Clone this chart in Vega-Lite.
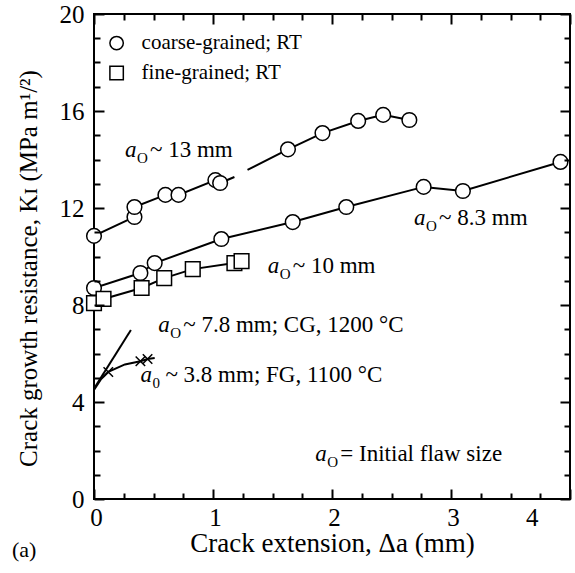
{
  "$schema": "https://vega.github.io/schema/vega-lite/v6.json",
  "width": 476,
  "height": 485,
  "autosize": {"type": "none"},
  "padding": {"left": 94, "top": 14, "right": 5, "bottom": 74},
  "background": "white",
  "title": {"text": "(a)", "orient": "bottom", "anchor": "start", "frame": "bounds", "font": "Liberation Serif", "fontSize": 22, "fontWeight": "normal", "color": "black", "offset": -16, "dx": -4},
  "config": {
    "view": {"stroke": "black", "strokeWidth": 2},
    "font": "Liberation Serif",
    "axis": {"zindex": 1, "ticks": true, "tickColor": "black", "tickWidth": 2, "tickOpacity": 1}
  },
  "datasets": {
    "pts": [
      {"x": 0, "y": 10.85, "grain": "coarse-grained; RT"},
      {"x": 0.34, "y": 11.63, "grain": "coarse-grained; RT"},
      {"x": 0.34, "y": 12.04, "grain": "coarse-grained; RT"},
      {"x": 0.60, "y": 12.54, "grain": "coarse-grained; RT"},
      {"x": 0.71, "y": 12.54, "grain": "coarse-grained; RT"},
      {"x": 1.02, "y": 13.15, "grain": "coarse-grained; RT"},
      {"x": 1.06, "y": 13.03, "grain": "coarse-grained; RT"},
      {"x": 1.63, "y": 14.42, "grain": "coarse-grained; RT"},
      {"x": 1.92, "y": 15.09, "grain": "coarse-grained; RT"},
      {"x": 2.22, "y": 15.59, "grain": "coarse-grained; RT"},
      {"x": 2.43, "y": 15.84, "grain": "coarse-grained; RT"},
      {"x": 2.65, "y": 15.63, "grain": "coarse-grained; RT"},
      {"x": 0, "y": 8.70, "grain": "coarse-grained; RT"},
      {"x": 0.39, "y": 9.32, "grain": "coarse-grained; RT"},
      {"x": 0.51, "y": 9.73, "grain": "coarse-grained; RT"},
      {"x": 1.07, "y": 10.72, "grain": "coarse-grained; RT"},
      {"x": 1.67, "y": 11.42, "grain": "coarse-grained; RT"},
      {"x": 2.12, "y": 12.04, "grain": "coarse-grained; RT"},
      {"x": 2.77, "y": 12.87, "grain": "coarse-grained; RT"},
      {"x": 3.10, "y": 12.70, "grain": "coarse-grained; RT"},
      {"x": 3.92, "y": 13.90, "grain": "coarse-grained; RT"},
      {"x": 0, "y": 8.08, "grain": "fine-grained; RT"},
      {"x": 0.08, "y": 8.25, "grain": "fine-grained; RT"},
      {"x": 0.40, "y": 8.70, "grain": "fine-grained; RT"},
      {"x": 0.59, "y": 9.11, "grain": "fine-grained; RT"},
      {"x": 0.83, "y": 9.48, "grain": "fine-grained; RT"},
      {"x": 1.18, "y": 9.73, "grain": "fine-grained; RT"},
      {"x": 1.24, "y": 9.81, "grain": "fine-grained; RT"}
    ],
    "legend": [
      {"x": 0.19, "y": 18.8, "grain": "coarse-grained; RT"},
      {"x": 0.19, "y": 17.57, "grain": "fine-grained; RT"}
    ],
    "lines": [
      {"series": "cg13a", "x": 0, "y": 10.85},
      {"series": "cg13a", "x": 0.34, "y": 11.63},
      {"series": "cg13a", "x": 0.34, "y": 12.04},
      {"series": "cg13a", "x": 0.60, "y": 12.54},
      {"series": "cg13a", "x": 0.71, "y": 12.54},
      {"series": "cg13a", "x": 1.02, "y": 13.15},
      {"series": "cg13a", "x": 1.06, "y": 13.03},
      {"series": "cg13a", "x": 1.18, "y": 13.28},
      {"series": "cg13b", "x": 1.29, "y": 13.57},
      {"series": "cg13b", "x": 1.63, "y": 14.42},
      {"series": "cg13b", "x": 1.92, "y": 15.09},
      {"series": "cg13b", "x": 2.22, "y": 15.59},
      {"series": "cg13b", "x": 2.43, "y": 15.84},
      {"series": "cg13b", "x": 2.65, "y": 15.63},
      {"series": "cg8", "x": 0, "y": 8.70},
      {"series": "cg8", "x": 0.39, "y": 9.32},
      {"series": "cg8", "x": 0.51, "y": 9.73},
      {"series": "cg8", "x": 1.07, "y": 10.72},
      {"series": "cg8", "x": 1.67, "y": 11.42},
      {"series": "cg8", "x": 2.12, "y": 12.04},
      {"series": "cg8", "x": 2.77, "y": 12.87},
      {"series": "cg8", "x": 3.10, "y": 12.70},
      {"series": "cg8", "x": 3.92, "y": 13.90},
      {"series": "fg10", "x": 0, "y": 8.08},
      {"series": "fg10", "x": 0.08, "y": 8.25},
      {"series": "fg10", "x": 0.40, "y": 8.70},
      {"series": "fg10", "x": 0.59, "y": 9.11},
      {"series": "fg10", "x": 0.83, "y": 9.48},
      {"series": "fg10", "x": 1.18, "y": 9.73},
      {"series": "fg10", "x": 1.24, "y": 9.81},
      {"series": "cg7.8", "x": 0, "y": 4.55},
      {"series": "cg7.8", "x": 0.31, "y": 6.97},
      {"series": "fg3.8", "x": 0, "y": 4.5},
      {"series": "fg3.8", "x": 0.06, "y": 4.95},
      {"series": "fg3.8", "x": 0.12, "y": 5.24},
      {"series": "fg3.8", "x": 0.26, "y": 5.55},
      {"series": "fg3.8", "x": 0.39, "y": 5.68},
      {"series": "fg3.8", "x": 0.45, "y": 5.77},
      {"series": "fg3.8", "x": 0.51, "y": 5.81}
    ],
    "xmarks": [
      {"x": 0.12, "y": 5.24},
      {"x": 0.39, "y": 5.68},
      {"x": 0.45, "y": 5.77}
    ],
    "ann": [
      {"x": 0.26, "y": 14.1, "sub": "O", "rest": "~ 13 mm"},
      {"x": 2.69, "y": 11.3, "sub": "O", "rest": "~ 8.3 mm"},
      {"x": 1.46, "y": 9.32, "sub": "O", "rest": "~ 10 mm"},
      {"x": 0.54, "y": 6.89, "sub": "O", "rest": "~ 7.8 mm; CG, 1200 °C"},
      {"x": 0.39, "y": 4.82, "sub": "0", "rest": "~ 3.8 mm; FG, 1100 °C"},
      {"x": 1.86, "y": 1.57, "sub": "O", "rest": "= Initial flaw size"}
    ]
  },
  "resolve": {"axis": {"x": "independent", "y": "independent"}},
  "layer": [
    {
      "data": {"name": "lines"},
      "mark": {"type": "line", "color": "black", "clip": true},
      "encoding": {
        "x": {"field": "x", "type": "quantitative", "scale": {"domain": [0, 4], "nice": false, "zero": false},
          "axis": {
            "orient": "bottom",
            "offset": -10,
            "values": [0, 1, 2, 3, 4],
            "format": "d",
            "tickSize": 10, "tickColor": "black", "tickWidth": 2, "zindex": 1,
            "labelAlign": {"condition": {"test": "datum.value === 4", "value": "right"}, "value": "center"},
            "labelOffset": {"condition": {"test": "datum.value === 4", "value": -32}, "value": 2},
            "domain": false, "grid": false,
            "labelFlush": false, "labelOverlap": false, "labelBound": false,
            "labelPadding": 6,
            "labelFont": "Liberation Serif", "labelFontSize": 25, "labelColor": "black",
            "title": "Crack  extension, Δa (mm)",
            "titleFont": "Liberation Serif", "titleFontSize": 27, "titleFontWeight": "normal", "titleColor": "black",
            "titlePadding": 0
          }},
        "y": {"field": "y", "type": "quantitative", "scale": {"domain": [0, 20], "nice": false, "zero": false},
          "axis": {
            "orient": "left",
            "offset": -10,
            "values": [0, 4, 8, 12, 16, 20],
            "format": "d",
            "tickSize": 10, "tickColor": "black", "tickWidth": 2, "zindex": 1,
            "domain": false, "grid": false,
            "labelFlush": false, "labelOverlap": false, "labelBound": false,
            "labelPadding": 10,
            "labelFont": "Liberation Serif", "labelFontSize": 25, "labelColor": "black",
            "title": "Crack growth resistance, Kɪ (MPa m¹/²)",
            "titleFont": "Liberation Serif", "titleFontSize": 25, "titleFontWeight": "normal", "titleColor": "black",
            "titlePadding": 18,
            "titleY": 254
          }},
        "detail": {"field": "series"},
        "strokeWidth": {"field": "series", "type": "nominal", "scale": {"domain": ["cg13a", "cg13b", "cg8", "fg10", "cg7.8", "fg3.8"], "range": [2, 2, 2, 2, 4.5, 2]}, "legend": null}
      }
    },
    {
      "data": {"name": "pts"},
      "mark": {"type": "point", "filled": true, "fill": "white", "stroke": "black", "strokeWidth": 1.5, "opacity": 1, "size": 215},
      "encoding": {
        "x": {"field": "x", "type": "quantitative",
          "axis": {
            "orient": "bottom",
            "offset": -6,
            "values": [0.25, 0.5, 0.75, 1.25, 1.5, 1.75, 2.25, 2.5, 2.75, 3.25, 3.5, 3.75],
            "labels": false, "title": null, "domain": false, "grid": false,
            "tickSize": 6, "tickColor": "black", "tickWidth": 2, "zindex": 1
          }},
        "y": {"field": "y", "type": "quantitative",
          "axis": {
            "orient": "left",
            "offset": -6,
            "values": [1, 2, 3, 5, 6, 7, 9, 10, 11, 13, 14, 15, 17, 18, 19],
            "labels": false, "title": null, "domain": false, "grid": false,
            "tickSize": 6, "tickColor": "black", "tickWidth": 2, "zindex": 1
          }},
        "shape": {"field": "grain", "type": "nominal", "scale": {"domain": ["coarse-grained; RT", "fine-grained; RT"], "range": ["circle", "square"]}, "legend": null}
      }
    },
    {
      "data": {"name": "legend"},
      "mark": {"type": "point", "filled": true, "fill": "white", "stroke": "black", "strokeWidth": 1.5, "opacity": 1, "size": 180},
      "encoding": {
        "x": {"field": "x", "type": "quantitative", "axis": null},
        "y": {"field": "y", "type": "quantitative", "axis": null},
        "shape": {"field": "grain", "type": "nominal", "legend": null}
      }
    },
    {
      "data": {"name": "legend"},
      "mark": {"type": "text", "font": "Liberation Serif", "fontSize": 21, "align": "left", "baseline": "middle", "dx": 25, "color": "black"},
      "encoding": {
        "x": {"field": "x", "type": "quantitative", "axis": null},
        "y": {"field": "y", "type": "quantitative", "axis": null},
        "text": {"field": "grain"}
      }
    },
    {
      "data": {"name": "xmarks"},
      "mark": {"type": "point", "shape": "M-1,-1L1,1M-1,1L1,-1", "filled": false, "stroke": "black", "strokeWidth": 1.5, "size": 90, "opacity": 1},
      "encoding": {
        "x": {"field": "x", "type": "quantitative",
          "axis": {
            "orient": "top",
            "offset": -10,
            "values": [0, 1, 2, 3, 4],
            "labels": false, "title": null, "domain": false, "grid": false,
            "tickSize": 10, "tickColor": "black", "tickWidth": 2, "zindex": 1
          }},
        "y": {"field": "y", "type": "quantitative",
          "axis": {
            "orient": "right",
            "offset": -10,
            "values": [0, 4, 8, 12, 16, 20],
            "labels": false, "title": null, "domain": false, "grid": false,
            "tickSize": 10, "tickColor": "black", "tickWidth": 2, "zindex": 1
          }}
      }
    },
    {
      "data": {"name": "ann"},
      "mark": {"type": "text", "text": "a", "fontStyle": "italic", "font": "Liberation Serif", "fontSize": 23, "align": "left", "baseline": "alphabetic", "color": "black"},
      "encoding": {
        "x": {"field": "x", "type": "quantitative",
          "axis": {
            "orient": "top",
            "offset": -6,
            "values": [0.25, 0.5, 0.75, 1.25, 1.5, 1.75, 2.25, 2.5, 2.75, 3.25, 3.5, 3.75],
            "labels": false, "title": null, "domain": false, "grid": false,
            "tickSize": 6, "tickColor": "black", "tickWidth": 2, "zindex": 1
          }},
        "y": {"field": "y", "type": "quantitative",
          "axis": {
            "orient": "right",
            "offset": -6,
            "values": [1, 2, 3, 5, 6, 7, 9, 10, 11, 13, 14, 15, 17, 18, 19],
            "labels": false, "title": null, "domain": false, "grid": false,
            "tickSize": 6, "tickColor": "black", "tickWidth": 2, "zindex": 1
          }}
      }
    },
    {
      "data": {"name": "ann"},
      "mark": {"type": "text", "font": "Liberation Serif", "fontSize": 15, "align": "left", "baseline": "alphabetic", "dx": 12, "dy": 6, "color": "black"},
      "encoding": {
        "x": {"field": "x", "type": "quantitative", "axis": null},
        "y": {"field": "y", "type": "quantitative", "axis": null},
        "text": {"field": "sub"}
      }
    },
    {
      "data": {"name": "ann"},
      "mark": {"type": "text", "font": "Liberation Serif", "fontSize": 23, "align": "left", "baseline": "alphabetic", "dx": 25, "color": "black"},
      "encoding": {
        "x": {"field": "x", "type": "quantitative", "axis": null},
        "y": {"field": "y", "type": "quantitative", "axis": null},
        "text": {"field": "rest"}
      }
    }
  ]
}
